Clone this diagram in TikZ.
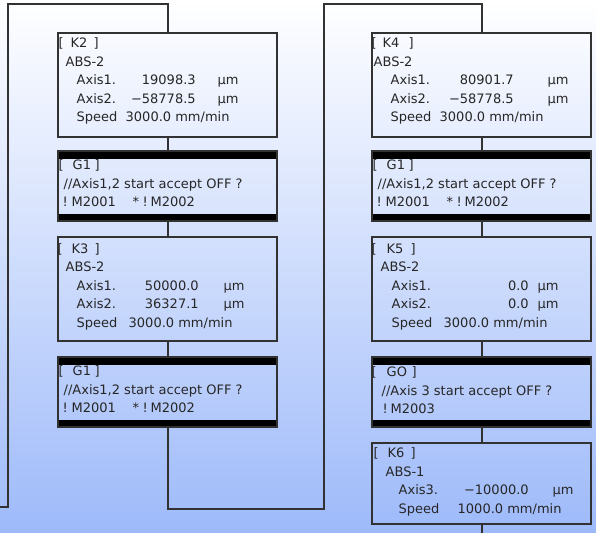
\documentclass[tikz,border=0pt]{standalone}
\usepackage{fontspec}
\setmainfont{DejaVu Sans}
\definecolor{bgblue}{RGB}{158,186,250}
\definecolor{linegray}{RGB}{50,50,50}
% text pieces put at fixed offsets from the line start
\newcommand{\putl}[2]{\makebox[0pt][l]{\hspace*{#1pt}#2}}
\newcommand{\putr}[2]{\makebox[0pt][l]{\hspace*{#1pt}\llap{#2}}}
\newcommand{\gonetext}{\begin{tabular}[t]{@{}l@{}}
\putl{1}{[}\putl{15}{G1}\putl{37}{]}\\
\putl{6}{//Axis1,2 start accept OFF ?}\\
\putl{5}{!}\putl{14}{M2001}\putl{75}{*}\putl{85}{!}\putl{93}{M2002}
\end{tabular}}
\begin{document}
\begin{tikzpicture}[x=1pt, y=-1pt,
  kbox/.style={draw=linegray, line width=2pt, minimum width=219pt, inner sep=0pt, anchor=north west},
  gbox/.style={kbox, minimum height=70pt,
    path picture={\fill[black] (path picture bounding box.north west) rectangle ([yshift=-7.5pt]path picture bounding box.north east);
      \fill[black] (path picture bounding box.south west) rectangle ([yshift=7.5pt]path picture bounding box.south east);}},
  txt/.style={inner sep=0pt, anchor=base west, text=black!85, font=\fontsize{13}{18.5}\selectfont},
  flow/.style={draw=linegray, line width=2pt}]
\shade[top color=white, bottom color=bgblue] (0,0) rectangle (596,532);
\useasboundingbox (0,0) rectangle (596,532);

% left column
\node[kbox, minimum height=104pt] (k2) at (57,32) {};
\node[gbox] (g1a) at (57,150) {};
\node[kbox, minimum height=104pt] (k3) at (57,236) {};
\node[gbox] (g1b) at (57,356) {};
% right column
\node[kbox, minimum height=104pt] (k4) at (371,32) {};
\node[gbox] (g1c) at (371,150) {};
\node[kbox, minimum height=104pt] (k5) at (371,236) {};
\node[gbox] (g0) at (371,356) {};
\node[kbox, minimum height=81pt] (k6) at (371,442) {};

% box texts
\node[txt] (k2t) at ([yshift=-16pt]k2.north west) {\begin{tabular}[t]{@{}l@{}}
\putl{1}{[}\putl{13}{K2}\putl{36}{]}\\
\putl{8}{ABS-2}\\
\putl{19}{Axis1.}\putr{138}{19098.3}\putl{160}{μm}\\
\putl{19}{Axis2.}\putr{138}{−58778.5}\putl{160}{μm}\\
\putl{19}{Speed}\putl{68}{3000.0 mm/min}
\end{tabular}};
\node[txt] (g1at) at ([yshift=-19.5pt]g1a.north west) {\gonetext};
\node[txt] (k3t) at ([yshift=-17pt]k3.north west) {\begin{tabular}[t]{@{}l@{}}
\putl{0}{[}\putl{14}{K3}\putl{37}{]}\\
\putl{8}{ABS-2}\\
\putl{19}{Axis1.}\putr{141}{50000.0}\putl{166}{μm}\\
\putl{19}{Axis2.}\putr{141}{36327.1}\putl{166}{μm}\\
\putl{19}{Speed}\putl{71}{3000.0 mm/min}
\end{tabular}};
\node[txt] (g1bt) at ([yshift=-19.5pt]g1b.north west) {\gonetext};
\node[txt] (k4t) at ([yshift=-16pt]k4.north west) {\begin{tabular}[t]{@{}l@{}}
\putl{0}{[}\putl{11}{K4}\putl{37}{]}\\
\putl{2}{ABS-2}\\
\putl{19}{Axis1.}\putr{142}{80901.7}\putl{176}{μm}\\
\putl{19}{Axis2.}\putr{142}{−58778.5}\putl{176}{μm}\\
\putl{19}{Speed}\putl{68}{3000.0 mm/min}
\end{tabular}};
\node[txt] (g1ct) at ([yshift=-19.5pt]g1c.north west) {\gonetext};
\node[txt] (k5t) at ([yshift=-17pt]k5.north west) {\begin{tabular}[t]{@{}l@{}}
\putl{0}{[}\putl{15}{K5}\putl{39}{]}\\
\putl{9}{ABS-2}\\
\putl{20}{Axis1.}\putr{157}{0.0}\putl{166}{μm}\\
\putl{20}{Axis2.}\putr{157}{0.0}\putl{166}{μm}\\
\putl{20}{Speed}\putl{72}{3000.0 mm/min}
\end{tabular}};
\node[txt] (g0t) at ([yshift=-20.5pt]g0.north west) {\begin{tabular}[t]{@{}l@{}}
\putl{0}{[}\putl{15}{GO}\putl{40}{]}\\
\putl{10}{//Axis 3 start accept OFF ?}\\
\putl{11}{!}\putl{19}{M2003}
\end{tabular}};
\node[txt] (k6t) at ([yshift=-15.5pt]k6.north west) {\begin{tabular}[t]{@{}l@{}}
\putl{2}{[}\putl{16}{K6}\putl{39}{]}\\
\putl{14}{ABS-1}\\
\putl{27}{Axis3.}\putr{157}{−10000.0}\putl{181}{μm}\\
\putl{27}{Speed}\putl{86}{1000.0 mm/min}
\end{tabular}};

% connectors
\coordinate (in) at (0,507);
\coordinate (out) at ([yshift=-9pt]k6.south);
\draw[flow] (in) -- ++(8,0) |- ([yshift=28pt]k2.north) -- (k2.north);
\draw[flow] (k2) -- (g1a);
\draw[flow] (g1a) -- (k3);
\draw[flow] (k3) -- (g1b);
\draw[flow] (g1b.south) -- ++(0,81) -- ++(156.5,0) |- ([yshift=28pt]k4.north) -- (k4.north);
\draw[flow] (k4) -- (g1c);
\draw[flow] (g1c) -- (k5);
\draw[flow] (k5) -- (g0);
\draw[flow] (g0) -- (k6);
\draw[flow] (k6.south) -- (out);
\end{tikzpicture}
\end{document}
